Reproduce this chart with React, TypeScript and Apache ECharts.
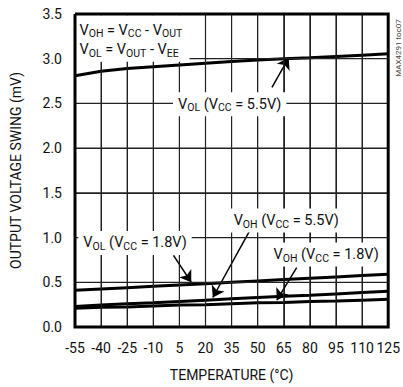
import React, { useEffect, useRef } from 'react';
import * as echarts from 'echarts';

const TEMPS = [-55, -40, -25, -10, 5, 20, 35, 50, 65, 80, 95, 110, 125];
const VOL_VCC55 = [2.81, 2.86, 2.89, 2.91, 2.93, 2.95, 2.97, 2.985, 3.0, 3.01, 3.025, 3.04, 3.055];
const VOL_VCC18 = [0.41, 0.425, 0.44, 0.455, 0.47, 0.485, 0.5, 0.515, 0.53, 0.545, 0.56, 0.575, 0.59];
const VOH_VCC55 = [0.23, 0.245, 0.26, 0.27, 0.285, 0.3, 0.315, 0.33, 0.345, 0.355, 0.37, 0.385, 0.4];
const VOH_VCC18 = [0.21, 0.22, 0.225, 0.235, 0.245, 0.25, 0.26, 0.27, 0.275, 0.285, 0.29, 0.3, 0.31];

const X_TICKS = [-55, -40, -25, -10, 5, 20, 35, 50, 65, 80, 95, 110, 125];
const Y_TICKS = [0, 0.5, 1.0, 1.5, 2.0, 2.5, 3.0, 3.5];

const X_MIN = -55;
const X_MAX = 125;
const X_STEP = 15;
const Y_MIN = 0;
const Y_MAX = 3.5;
const Y_STEP = 0.5;

// annotation arrows, in data space: [tailTemp, tailValue, headTemp, headValue]
const ARROWS = [
  [58.2, 2.68, 67.8, 3.01],
  [1.6, 0.8, 11.8, 0.5],
  [45.2, 1.07, 24.2, 0.33],
  [72.4, 0.665, 61.0, 0.3],
];

// curve labels: [text, centerTemp, centerValue]
const LABELS: [string, number, number][] = [
  ['{n|V}{s|OL}{n| (V}{s|CC}{n| = 5.5V)}', 33.9, 2.49],
  ['{n|V}{s|OL}{n| (V}{s|CC}{n| = 1.8V)}', -20.5, 0.94],
  ['{n|V}{s|OH}{n| (V}{s|CC}{n| = 5.5V)}', 66.4, 1.19],
  ['{n|V}{s|OH}{n| (V}{s|CC}{n| = 1.8V)}', 89.3, 0.81],
];

const DEF_LINES: [string, number, number][] = [
  ['{n|V}{s|OH}{n| = V}{s|CC}{n| - V}{s|OUT}', -52.4, 3.32],
  ['{n|V}{s|OL}{n| = V}{s|OUT}{n| - V}{s|EE}', -52.4, 3.1],
];
const DEF_BOX = [-54.4, 3.485, 10.8, 2.965];

const FONT = "Roboto, 'Liberation Sans', sans-serif";
const GRID_COLOR = '#222';

const rich = {
  n: { fontSize: 14.5, fontFamily: FONT, fill: '#111', lineHeight: 18, verticalAlign: 'middle' },
  s: { fontSize: 10.5, fontFamily: FONT, fill: '#111', lineHeight: 18, verticalAlign: 'bottom' },
};

export default function App() {
  const ref = useRef<HTMLDivElement>(null);
  useEffect(() => {
    const el = ref.current;
    if (!el) return;
    const chart = echarts.init(el, null, { renderer: 'svg' });
    const pair = (a: number[]) => TEMPS.map((t, i) => [t, a[i]]);
    const lineSeries = (name: string, data: number[]) => ({
      name,
      type: 'line',
      data: pair(data),
      symbol: 'none',
      lineStyle: { color: '#000', width: 3 },
      z: 3,
    });
    const option: any = {
      animation: false,
      backgroundColor: '#fff',
      textStyle: { fontFamily: FONT },
      grid: {
        left: 75,
        right: 10,
        top: 14,
        bottom: 57,
        show: false,
      },
      xAxis: {
        type: 'value',
        min: X_MIN,
        max: X_MAX,
        interval: X_STEP,
        axisLine: { show: false },
        axisTick: { show: false },
        splitLine: { show: true, lineStyle: { color: GRID_COLOR, width: 1 } },
        axisLabel: { color: '#111', fontSize: 14, fontFamily: FONT, margin: 14, hideOverlap: false, showMaxLabel: true, showMinLabel: true },
        name: 'TEMPERATURE (°C)',
        nameLocation: 'middle',
        nameGap: 41,
        nameTextStyle: { color: '#111', fontSize: 14, fontFamily: FONT },
      },
      yAxis: {
        type: 'value',
        min: Y_MIN,
        max: Y_MAX,
        interval: Y_STEP,
        axisLine: { show: false },
        axisTick: { show: false },
        splitLine: { show: true, lineStyle: { color: GRID_COLOR, width: 1 } },
        axisLabel: {
          color: '#111',
          fontSize: 14,
          fontFamily: FONT,
          margin: 13,
          formatter: (v: number) => v.toFixed(1),
        },
        name: 'OUTPUT VOLTAGE SWING (mV)',
        nameLocation: 'middle',
        nameGap: 52,
        nameTextStyle: { color: '#111', fontSize: 14, fontFamily: FONT },
      },
      series: [
        {
          ...lineSeries('VOL 5.5', VOL_VCC55),
          markLine: {
            silent: true,
            symbol: ['none', 'arrow'],
            symbolSize: 11,
            label: { show: false },
            lineStyle: { color: '#000', width: 1.5, type: 'solid' },
            data: ARROWS.map((a) => [{ coord: [a[0], a[1]] }, { coord: [a[2], a[3]] }]),
          },
        },
        lineSeries('VOL 1.8', VOL_VCC18),
        lineSeries('VOH 5.5', VOH_VCC55),
        lineSeries('VOH 1.8', VOH_VCC18),
      ],
    };
    chart.setOption(option);

    const px = (t: number, v: number) => chart.convertToPixel({ gridIndex: 0 }, [t, v]) as number[];
    const b0 = px(DEF_BOX[0], DEF_BOX[1]);
    const b1 = px(DEF_BOX[2], DEF_BOX[3]);
    const g0 = px(X_MIN, Y_MAX);
    const g1 = px(X_MAX, Y_MIN);
    const gridLines: any[] = [
      ...X_TICKS.map((t) => {
        const x = px(t, 0)[0];
        return {
          type: 'line',
          z: 5,
          silent: true,
          shape: { x1: x, y1: g0[1], x2: x, y2: g1[1] },
          style: { stroke: GRID_COLOR, lineWidth: 1.2 },
        };
      }),
      ...Y_TICKS.map((v) => {
        const y = px(0, v)[1];
        return {
          type: 'line',
          z: 5,
          silent: true,
          shape: { x1: g0[0], y1: y, x2: g1[0], y2: y },
          style: { stroke: GRID_COLOR, lineWidth: 1.2 },
        };
      }),
    ];
    const graphic: any[] = [
      ...gridLines,
      {
        type: 'rect',
        z: 8,
        shape: { x: b0[0], y: b0[1], width: b1[0] - b0[0], height: b1[1] - b0[1] },
        style: { fill: '#fff' },
        silent: true,
      },
      {
        type: 'polyline',
        z: 20,
        shape: {
          points: [
            [g0[0], g0[1]],
            [g1[0], g0[1]],
            [g1[0], g1[1]],
            [g0[0], g1[1]],
            [g0[0], g0[1]],
          ],
        },
        style: { stroke: '#000', lineWidth: 3, fill: null },
        silent: true,
      },
      ...DEF_LINES.map(([text, t, v]) => {
        const p = px(t, v);
        return {
          type: 'text',
          z: 10,
          x: p[0],
          y: p[1],
          silent: true,
          style: { text, rich, align: 'left', verticalAlign: 'middle' },
        };
      }),
      ...LABELS.map(([text, t, v]) => {
        const p = px(t, v);
        return {
          type: 'text',
          z: 10,
          x: p[0],
          y: p[1],
          silent: true,
          style: {
            text,
            rich,
            align: 'center',
            verticalAlign: 'middle',
            backgroundColor: '#fff',
            padding: [3, 5, 3, 5],
          },
        };
      }),
      {
        type: 'text',
        z: 10,
        x: 398,
        y: 48,
        rotation: Math.PI / 2,
        silent: true,
        style: {
          text: 'MAX4291 toc07',
          fontSize: 8,
          fontFamily: FONT,
          fill: '#444',
          align: 'center',
          verticalAlign: 'middle',
        },
      },
    ];
    chart.setOption({ graphic });
    return () => chart.dispose();
  }, []);
  return <div ref={ref} style={{ position: 'fixed', left: 0, top: 0, width: 403, height: 387 }} />;
}
